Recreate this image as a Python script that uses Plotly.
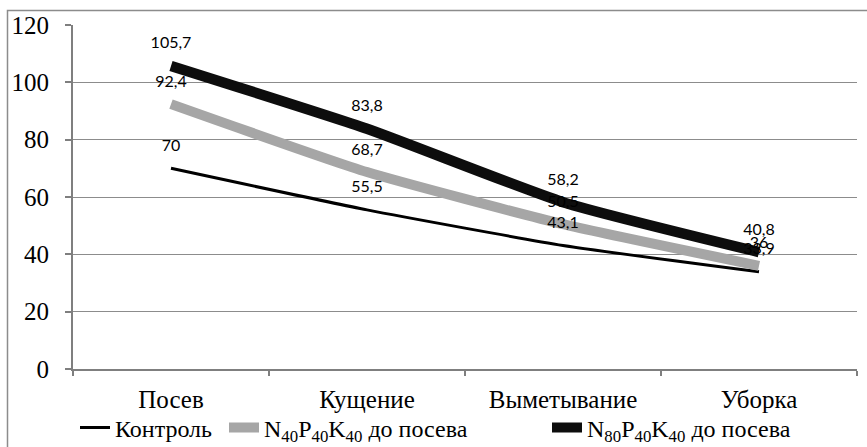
import plotly.graph_objects as go

categories = ["Посев", "Кущение", "Выметывание", "Уборка"]
control = [70, 55.5, 43.1, 33.9]
npk40 = [92.4, 68.7, 50.5, 36]
npk80 = [105.7, 83.8, 58.2, 40.8]
y_ticks = [0, 20, 40, 60, 80, 100, 120]

def fmt(v):
    return (f"{v:g}").replace(".", ",")

W, H = 867, 447
L, R, T, B = 73, 10, 25, 78
pw = W - L - R
ph = H - T - B

def px2x(px):
    return (px - L) / pw

def px2y(py):
    return (H - B - py) / ph

serif = "Liberation Serif"
lab_font = dict(family="Lato", size=16, color="#000000")

fig = go.Figure()
series = [
    ("Контроль", control, "#000000", 3, "legend", 75),
    ("N<sub>40</sub>P<sub>40</sub>K<sub>40</sub> до посева", npk40, "#A6A6A6", 10, "legend2", 224),
    ("N<sub>80</sub>P<sub>40</sub>K<sub>40</sub> до посева", npk80, "#0D0D0D", 10.5, "legend3", 547),
]
# lines (with legend entries)
for name, vals, col, w, lg, lx in series:
    fig.add_trace(go.Scatter(
        x=categories, y=vals, name=name, showlegend=True, legend=lg,
        mode="lines",
        line=dict(color=col, width=w, shape="spline", smoothing=0.5),
        hoverinfo="skip",
    ))
# data labels on top of all lines
for name, vals, col, w, lg, lx in series:
    fig.add_trace(go.Scatter(
        x=categories, y=vals, name=name, showlegend=False,
        mode="markers+text",
        marker=dict(size=20, opacity=0, color=col),
        text=[fmt(v) for v in vals], textposition="top center",
        textfont=lab_font, cliponaxis=False, hoverinfo="skip",
    ))

leg_common = dict(orientation="h", xref="container", yref="container",
                  xanchor="left", yanchor="middle", y=1 - 428 / H,
                  font=dict(family=serif, size=24, color="#000"),
                  bgcolor="rgba(0,0,0,0)")

fig.update_layout(
    width=W, height=H,
    font=dict(family=serif),
    margin=dict(l=L, r=R, t=T, b=B, autoexpand=False),
    paper_bgcolor="white", plot_bgcolor="white",
    showlegend=True,
    xaxis=dict(
        type="category", showgrid=False, showline=True, linecolor="#7f7f7f", linewidth=2,
        ticks="outside", tickson="boundaries", ticklen=5, tickcolor="#7f7f7f", tickwidth=1.5,
        tickfont=dict(family=serif, size=25, color="#000"), ticklabelstandoff=7,
        range=[-0.5, 3.5], fixedrange=True,
    ),
    yaxis=dict(
        range=[0, 120], tickvals=y_ticks, showgrid=True, gridcolor="#8c8c8c", gridwidth=1.3,
        showline=True, linecolor="#7f7f7f", linewidth=2, zeroline=False,
        ticks="outside", ticklen=6, tickcolor="#7f7f7f", tickwidth=1.5,
        tickfont=dict(family=serif, size=25, color="#000"), ticklabelstandoff=11,
        fixedrange=True,
    ),
    legend=dict(x=series[0][5] / W, **leg_common),
    legend2=dict(x=series[1][5] / W, **leg_common),
    legend3=dict(x=series[2][5] / W, **leg_common),
    shapes=[dict(type="rect", xref="paper", yref="paper",
                 x0=px2x(7.5), x1=px2x(875), y0=px2y(470), y1=px2y(10.5),
                 line=dict(color="#8c8c8c", width=1.5), fillcolor="rgba(0,0,0,0)", layer="below")],
)

fig.write_html("out.html", config=dict(displayModeBar=False),
               post_script="document.body.style.margin='0';")
